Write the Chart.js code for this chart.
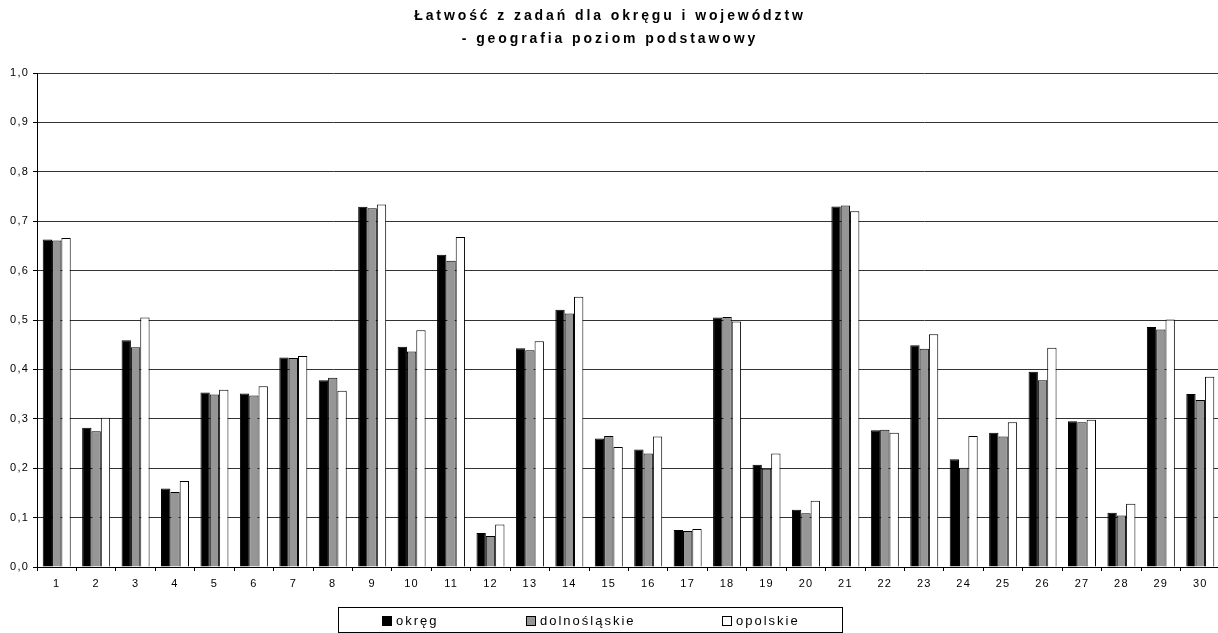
<!DOCTYPE html>
<html>
<head>
<meta charset="utf-8">
<script src="https://cdn.jsdelivr.net/npm/chart.js@4"></script>
<style>
html,body{margin:0;padding:0;background:#fff;overflow:hidden;}
canvas{display:block;}
</style>
</head>
<body>
<canvas id="c" width="1221" height="633"></canvas>
<script>
const categories = ['1','2','3','4','5','6','7','8','9','10','11','12','13','14','15','16','17','18','19','20','21','22','23','24','25','26','27','28','29','30'];
const seriesNames = ['okręg','dolnośląskie','opolskie'];
const okreg = [0.663,0.282,0.459,0.159,0.353,0.351,0.424,0.378,0.729,0.446,0.632,0.069,0.443,0.521,0.260,0.238,0.075,0.505,0.207,0.116,0.730,0.277,0.449,0.218,0.272,0.395,0.295,0.110,0.486,0.350];
const dolnoslaskie = [0.661,0.275,0.445,0.152,0.349,0.347,0.423,0.383,0.726,0.436,0.620,0.063,0.439,0.513,0.265,0.230,0.073,0.506,0.199,0.109,0.732,0.278,0.442,0.201,0.264,0.378,0.293,0.104,0.481,0.338];
const opolskie = [0.666,0.302,0.505,0.174,0.359,0.366,0.427,0.357,0.734,0.479,0.668,0.086,0.457,0.547,0.243,0.264,0.077,0.497,0.230,0.134,0.720,0.272,0.471,0.265,0.293,0.444,0.298,0.128,0.501,0.385];
const yTickLabels = ['0,0','0,1','0,2','0,3','0,4','0,5','0,6','0,7','0,8','0,9','1,0'];
const titleLines = ['Łatwość z zadań dla okręgu i województw','- geografia poziom podstawowy'];

const FONT = '"Liberation Sans", Arial, sans-serif';
const colors = ['#000000','#969696','#ffffff'];

const spacingPlugin = {
  id: 'spacing',
  beforeDraw(chart) { chart.ctx.letterSpacing = '1.2px'; }
};

const titlePlugin = {
  id: 'customTitle',
  afterDraw(chart) {
    const ctx = chart.ctx;
    ctx.save();
    ctx.letterSpacing = '2.9px';
    ctx.font = 'bold 14px ' + FONT;
    ctx.fillStyle = '#000';
    ctx.textAlign = 'center';
    ctx.textBaseline = 'middle';
    ctx.fillText(titleLines[0], 610, 16);
    ctx.fillText(titleLines[1], 610, 39);
    ctx.restore();
  }
};

const legendPlugin = {
  id: 'boxLegend',
  afterDraw(chart) {
    const ctx = chart.ctx;
    ctx.save();
    ctx.letterSpacing = '2px';
    ctx.strokeStyle = '#000';
    ctx.lineWidth = 1;
    ctx.strokeRect(338.5, 607.5, 504, 25);
    const xs = [382, 526, 722];
    ctx.font = '13px ' + FONT;
    ctx.textAlign = 'left';
    ctx.textBaseline = 'middle';
    chart.data.datasets.forEach((ds, i) => {
      ctx.fillStyle = ds.backgroundColor;
      ctx.fillRect(xs[i] + 0.5, 616.5, 9, 9);
      ctx.strokeRect(xs[i] + 0.5, 616.5, 9, 9);
      ctx.fillStyle = '#000';
      ctx.fillText(ds.label, xs[i] + 14, 621);
    });
    ctx.restore();
  }
};

new Chart(document.getElementById('c'), {
  type: 'bar',
  data: {
    labels: categories,
    datasets: [
      {label: seriesNames[0], data: okreg, backgroundColor: colors[0]},
      {label: seriesNames[1], data: dolnoslaskie, backgroundColor: colors[1]},
      {label: seriesNames[2], data: opolskie, backgroundColor: colors[2]}
    ]
  },
  options: {
    responsive: false,
    animation: false,
    devicePixelRatio: 1,
    layout: {padding: {top: 73, right: 1, left: 0, bottom: 0}},
    datasets: {
      bar: {
        borderColor: '#000',
        borderWidth: 1,
        borderSkipped: 'start',
        categoryPercentage: 0.71,
        barPercentage: 1.0
      }
    },
    plugins: {
      legend: {display: false},
      title: {display: false},
      tooltip: {enabled: false}
    },
    scales: {
      x: {
        offset: true,
        afterFit(scale) { scale.height = 66; },
        grid: {
          offset: true,
          drawOnChartArea: false,
          drawTicks: true,
          tickLength: 4,
          tickColor: '#000'
        },
        border: {color: '#000', width: 1},
        ticks: {
          color: '#000',
          font: {family: FONT, size: 11},
          padding: 6,
          maxRotation: 0,
          autoSkip: false
        }
      },
      y: {
        min: 0,
        max: 1,
        afterFit(scale) { scale.width = 37; },
        grid: {
          color: '#333333',
          lineWidth: 1,
          drawTicks: true,
          tickLength: 4,
          tickColor: '#000'
        },
        border: {color: '#000', width: 1},
        ticks: {
          stepSize: 0.1,
          color: '#000',
          font: {family: FONT, size: 11},
          padding: 4,
          callback: (v, i) => yTickLabels[i]
        }
      }
    }
  },
  plugins: [spacingPlugin, titlePlugin, legendPlugin]
});
</script>
</body>
</html>
